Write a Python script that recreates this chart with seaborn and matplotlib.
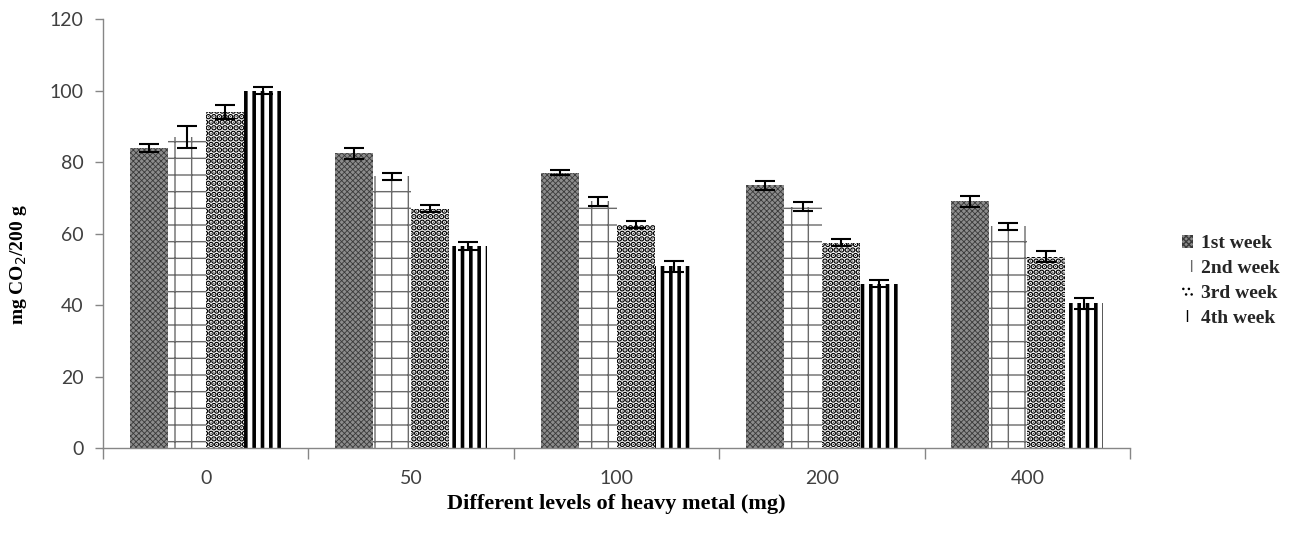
import matplotlib
matplotlib.use("Agg")
import matplotlib.pyplot as plt
import seaborn as sns
import pandas as pd
import numpy as np
from matplotlib.patches import Patch

levels = ["0", "50", "100", "200", "400"]
weeks = ["1st week", "2nd week", "3rd week", "4th week"]
week1 = [84.0, 82.5, 77.0, 73.5, 69.0]
week2 = [87.0, 76.0, 69.0, 67.5, 62.0]
week3 = [94.0, 67.0, 62.5, 57.5, 53.5]
week4 = [100.0, 56.5, 50.8, 46.0, 40.5]
err1 = [1.2, 1.5, 0.7, 1.2, 1.5]
err2 = [3.0, 1.0, 1.3, 1.3, 1.0]
err3 = [2.0, 1.0, 1.0, 1.0, 1.5]
err4 = [1.0, 1.2, 1.5, 1.0, 1.5]

values = [week1, week2, week3, week4]
errors = [err1, err2, err3, err4]

rows = []
for w, vals, errs in zip(weeks, values, errors):
    for lvl, v, e in zip(levels, vals, errs):
        rows.append({"level": lvl, "week": w, "value": v, "err": e})
df = pd.DataFrame(rows)

sns.set_theme(style="white")
plt.rcParams["font.family"] = ["Lato", "DejaVu Sans"]

fig = plt.figure(figsize=(13.11, 5.33), dpi=100)
ax = fig.add_axes([0.0786, 0.1595, 0.862 - 0.0786, 0.964 - 0.1595])

sns.barplot(data=df, x="level", y="value", hue="week", order=levels,
            hue_order=weeks, errorbar=None, width=0.74, gap=0.0,
            palette=["white"] * 4, ax=ax, legend=False, saturation=1)

styles = [
    dict(face="#8c8c8c", hatch="xxxxxx", hcolor="#3a3a3a", hlw=0.6),
    dict(face="white", hatch="+", hcolor="#6a6a6a", hlw=1.0),
    dict(face="white", hatch="...", hcolor="black", hlw=3.0),
    dict(face="white", hatch="||", hcolor="black", hlw=2.6),
]

containers = ax.containers
for cont, st, errs in zip(containers, styles, errors):
    for bar, e in zip(cont.patches, errs):
        bar.set_facecolor(st["face"])
        bar.set_hatch(st["hatch"])
        bar.set_edgecolor(st["hcolor"])
        bar.set_linewidth(0)
        if hasattr(bar, "set_hatch_linewidth"):
            bar.set_hatch_linewidth(st["hlw"])
        cx = bar.get_x() + bar.get_width() / 2
        ax.errorbar(cx, bar.get_height(), yerr=e, color="black",
                    capsize=7, elinewidth=1.5, capthick=1.5, fmt="none", zorder=5)

ax.set_ylim(0, 120)
ax.set_xlim(-0.5, 4.5)
ax.set_yticks(range(0, 121, 20))
ax.tick_params(axis="y", which="major", length=6, width=1, color="#868686",
               labelsize=14, labelcolor="#404040", left=True, pad=8)
ax.tick_params(axis="x", which="major", length=0, labelsize=14,
               labelcolor="#404040", pad=16)
ax.set_xticks(np.arange(-0.5, 4.6, 1.0), minor=True)
ax.tick_params(axis="x", which="minor", length=8, width=1, color="#868686", bottom=True)

for s in ["top", "right"]:
    ax.spines[s].set_visible(False)
for s in ["left", "bottom"]:
    ax.spines[s].set_color("#868686")
    ax.spines[s].set_linewidth(1)

ax.set_xlabel("Different levels of heavy metal (mg)", family="Liberation Serif",
              fontweight="bold", fontsize=16, color="black", labelpad=5)
ax.set_ylabel("mg CO$_2$/200 g", family="Liberation Serif",
              fontweight="bold", fontsize=14, color="black")
ax.yaxis.set_label_coords(-0.072, 0.427)

handles = []
for w, st in zip(weeks, styles):
    p = Patch(facecolor=st["face"], hatch=st["hatch"], edgecolor=st["hcolor"],
              linewidth=0, label=w)
    handles.append(p)
leg = fig.legend(handles=handles, loc="center left", bbox_to_anchor=(0.888, 0.473),
                 frameon=False, prop={"family": "Liberation Serif", "weight": "bold", "size": 14},
                 handlelength=0.6, handleheight=0.6, handletextpad=0.4, labelspacing=0.4)

fig.savefig("out.png", dpi=100)
